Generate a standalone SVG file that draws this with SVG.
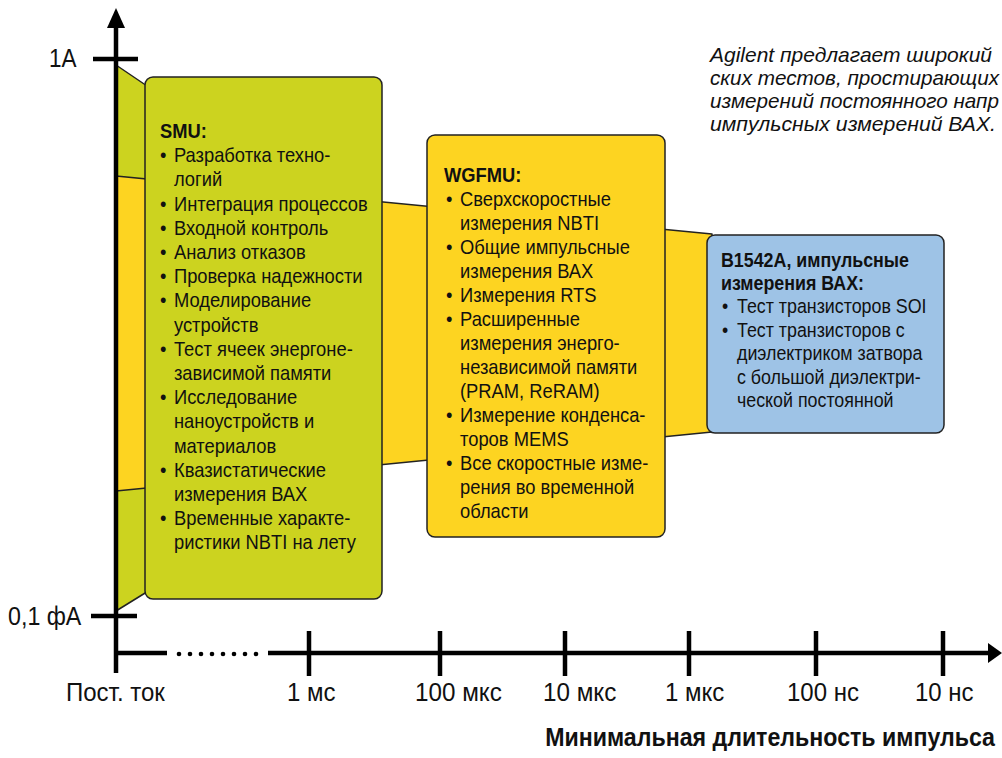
<svg xmlns="http://www.w3.org/2000/svg" width="1002" height="758" viewBox="0 0 1002 758">
<style>
text{font-family:"Liberation Sans",Arial,sans-serif;fill:#111}
.bx{font-size:20.5px}
.hd{font-weight:bold}
.ax{font-size:25px}
.it{font-size:21px;font-style:italic}
.box{stroke:#222;stroke-width:1.5}
.band{stroke:#222;stroke-width:1.5;stroke-linejoin:round}
.axis{stroke:#000;stroke-width:4.5;fill:none}
</style>
<rect width="1002" height="758" fill="#fff"/>
<g id="bands">
<polygon class="band" points="116,65 150,88 150,590 116,611" fill="#CCD31F"/>
<polygon class="band" points="116,176 712,234 712,432 116,491" fill="#FDD421"/>
</g>
<g id="axes">
<line class="axis" x1="116" y1="24" x2="116" y2="673"/>
<polygon points="116,8 107,28 125,28" fill="#000"/>
<line class="axis" x1="93" y1="59" x2="138" y2="59"/>
<line class="axis" x1="91" y1="616" x2="137" y2="616"/>
<line class="axis" x1="114" y1="653" x2="167" y2="653"/>
<g fill="#000">
<circle cx="179" cy="654" r="2.3"/><circle cx="190" cy="654" r="2.3"/><circle cx="201" cy="654" r="2.3"/><circle cx="212" cy="654" r="2.3"/><circle cx="223" cy="654" r="2.3"/><circle cx="234" cy="654" r="2.3"/><circle cx="245" cy="654" r="2.3"/><circle cx="256" cy="654" r="2.3"/>
</g>
<line class="axis" x1="268" y1="653" x2="992" y2="653"/>
<polygon points="1002,653 988,643 988,663" fill="#000"/>
<line class="axis" x1="309" y1="631" x2="309" y2="676"/>
<line class="axis" x1="440" y1="631" x2="440" y2="676"/>
<line class="axis" x1="565" y1="631" x2="565" y2="676"/>
<line class="axis" x1="689" y1="631" x2="689" y2="676"/>
<line class="axis" x1="816" y1="631" x2="816" y2="676"/>
<line class="axis" x1="943" y1="631" x2="943" y2="676"/>
</g>
<g id="axis-labels">
<text class="ax" transform="translate(49,67) scale(0.9,1)">1A</text>
<text class="ax" transform="translate(8,625) scale(0.93,1)">0,1 фА</text>
<text class="ax" transform="translate(66,701) scale(0.96,1)">Пост. ток</text>
<text class="ax" transform="translate(287,701) scale(0.96,1)">1 мс</text>
<text class="ax" transform="translate(415,701) scale(0.97,1)">100 мкс</text>
<text class="ax" transform="translate(543,701) scale(0.97,1)">10 мкс</text>
<text class="ax" transform="translate(665,701) scale(0.96,1)">1 мкс</text>
<text class="ax" transform="translate(787,701) scale(0.96,1)">100 нс</text>
<text class="ax" transform="translate(915,701) scale(0.96,1)">10 нс</text>
<text class="ax hd" text-anchor="end" transform="translate(995,746) scale(0.927,1)">Минимальная длительность импульса</text>
</g>
<g id="note">
<text x="710" y="62" class="it" textLength="282" lengthAdjust="spacingAndGlyphs">Agilent предлагает широкий</text>
<text x="710" y="85" class="it" textLength="289" lengthAdjust="spacingAndGlyphs">ских тестов, простирающих</text>
<text x="710" y="108" class="it" textLength="289" lengthAdjust="spacingAndGlyphs">измерений постоянного напр</text>
<text x="710" y="131" class="it" textLength="286" lengthAdjust="spacingAndGlyphs">импульсных измерений ВАХ.</text>
</g>
<g id="smu">
<rect class="box" x="145" y="77" width="237" height="522" rx="8" fill="#CCD31F"/>
<g class="bx" transform="translate(160,0) scale(0.895,1)">
<text x="0" y="138" class="bx hd">SMU:</text>
<text x="0" y="162.2" class="bx">•</text><text x="15.6" y="162.2" class="bx">Разработка техно-</text>
<text x="15.6" y="186.4" class="bx">логий</text>
<text x="0" y="210.6" class="bx">•</text><text x="15.6" y="210.6" class="bx">Интеграция процессов</text>
<text x="0" y="234.8" class="bx">•</text><text x="15.6" y="234.8" class="bx">Входной контроль</text>
<text x="0" y="259" class="bx">•</text><text x="15.6" y="259" class="bx">Анализ отказов</text>
<text x="0" y="283.2" class="bx">•</text><text x="15.6" y="283.2" class="bx">Проверка надежности</text>
<text x="0" y="307.4" class="bx">•</text><text x="15.6" y="307.4" class="bx">Моделирование</text>
<text x="15.6" y="331.6" class="bx">устройств</text>
<text x="0" y="355.8" class="bx">•</text><text x="15.6" y="355.8" class="bx">Тест ячеек энергоне-</text>
<text x="15.6" y="380" class="bx">зависимой памяти</text>
<text x="0" y="404.2" class="bx">•</text><text x="15.6" y="404.2" class="bx">Исследование</text>
<text x="15.6" y="428.4" class="bx">наноустройств и</text>
<text x="15.6" y="452.6" class="bx">материалов</text>
<text x="0" y="476.8" class="bx">•</text><text x="15.6" y="476.8" class="bx">Квазистатические</text>
<text x="15.6" y="501" class="bx">измерения ВАХ</text>
<text x="0" y="525.2" class="bx">•</text><text x="15.6" y="525.2" class="bx">Временные характе-</text>
<text x="15.6" y="549.4" class="bx">ристики NBTI на лету</text>
</g>
</g>
<g id="wgfmu">
<rect class="box" x="427" y="135" width="238" height="402" rx="8" fill="#FDD421"/>
<g class="bx" transform="translate(444,0) scale(0.895,1)">
<text x="0" y="182" class="bx hd">WGFMU:</text>
<text x="2.2" y="206" class="bx">•</text><text x="17.9" y="206" class="bx">Сверхскоростные</text>
<text x="17.9" y="230" class="bx">измерения NBTI</text>
<text x="2.2" y="254" class="bx">•</text><text x="17.9" y="254" class="bx">Общие импульсные</text>
<text x="17.9" y="278" class="bx">измерения ВАХ</text>
<text x="2.2" y="302" class="bx">•</text><text x="17.9" y="302" class="bx">Измерения RTS</text>
<text x="2.2" y="326" class="bx">•</text><text x="17.9" y="326" class="bx">Расширенные</text>
<text x="17.9" y="350" class="bx">измерения энерго-</text>
<text x="17.9" y="374" class="bx">независимой памяти</text>
<text x="17.9" y="398" class="bx">(PRAM, ReRAM)</text>
<text x="2.2" y="422" class="bx">•</text><text x="17.9" y="422" class="bx">Измерение конденса-</text>
<text x="17.9" y="446" class="bx">торов MEMS</text>
<text x="2.2" y="470" class="bx">•</text><text x="17.9" y="470" class="bx">Все скоростные изме-</text>
<text x="17.9" y="494" class="bx">рения во временной</text>
<text x="17.9" y="518" class="bx">области</text>
</g>
</g>
<g id="b1542a">
<rect class="box" x="707" y="235" width="237" height="198" rx="8" fill="#9EC3E6"/>
<g class="bx" transform="translate(721,0) scale(0.87,1)">
<text x="0" y="267" class="bx hd">B1542A, импульсные</text>
<text x="0" y="290" class="bx hd">измерения ВАХ:</text>
<text x="1.2" y="313.5" class="bx">•</text><text x="18.4" y="313.5" class="bx">Тест транзисторов SOI</text>
<text x="1.2" y="337" class="bx">•</text><text x="18.4" y="337" class="bx">Тест транзисторов с</text>
<text x="18.4" y="360.5" class="bx">диэлектриком затвора</text>
<text x="18.4" y="384" class="bx">с большой диэлектри-</text>
<text x="18.4" y="407.5" class="bx">ческой постоянной</text>
</g>
</g>
</svg>
